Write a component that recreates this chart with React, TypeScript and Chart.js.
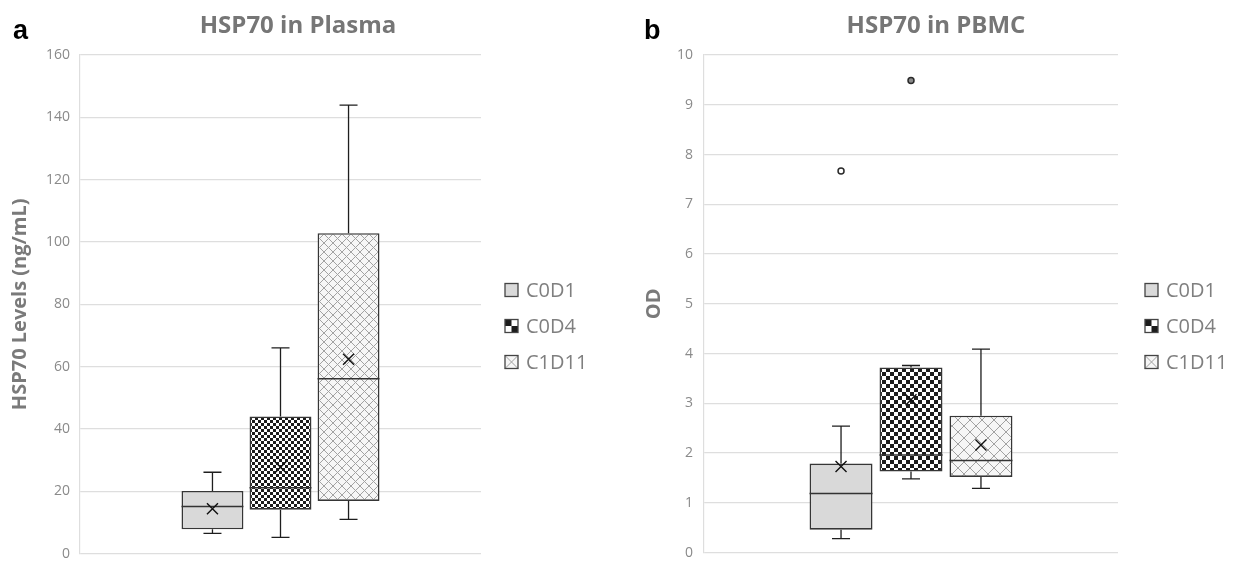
import React, { useEffect, useRef } from 'react';
import { Chart, registerables } from 'chart.js';

Chart.register(...registerables);

// ---------- data ----------
const categories = ['C0D1', 'C0D4', 'C1D11'];

// Panel a: HSP70 in Plasma (ng/mL)
const plasmaMin = [6.5, 5.2, 11.0];
const plasmaQ1 = [7.8, 14.1, 16.9];
const plasmaMedian = [15.1, 21.1, 56.1];
const plasmaQ3 = [20.1, 44.0, 102.8];
const plasmaMax = [26.1, 66.0, 143.9];
const plasmaMean = [14.4, 27.7, 62.4];
const plasmaOutliers: number[][] = [[], [], []];
const plasmaTicks = [0, 20, 40, 60, 80, 100, 120, 140, 160];

// Panel b: HSP70 in PBMC (OD)
const pbmcMin = [0.28, 1.48, 1.29];
const pbmcQ1 = [0.46, 1.63, 1.52];
const pbmcMedian = [1.19, 1.96, 1.85];
const pbmcQ3 = [1.79, 3.72, 2.75];
const pbmcMax = [2.54, 3.76, 4.09];
const pbmcMean = [1.73, 3.07, 2.16];
const pbmcOutliers: number[][] = [[7.67], [9.49], []];
const pbmcTicks = [0, 1, 2, 3, 4, 5, 6, 7, 8, 9, 10];

// ---------- patterns ----------
function checkerPattern(cell: number): CanvasPattern | string {
  const c = document.createElement('canvas');
  c.width = cell * 2;
  c.height = cell * 2;
  const g = c.getContext('2d')!;
  g.fillStyle = '#ffffff';
  g.fillRect(0, 0, cell * 2, cell * 2);
  g.fillStyle = '#1c1c1c';
  g.fillRect(0, 0, cell, cell);
  g.fillRect(cell, cell, cell, cell);
  return g.createPattern(c, 'repeat') || '#666';
}

function diamondPattern(s: number): CanvasPattern | string {
  const c = document.createElement('canvas');
  c.width = s;
  c.height = s;
  const g = c.getContext('2d')!;
  g.fillStyle = '#f6f6f6';
  g.fillRect(0, 0, s, s);
  g.strokeStyle = '#a2a2a2';
  g.lineWidth = 1;
  g.beginPath();
  g.moveTo(-1, -1);
  g.lineTo(s + 1, s + 1);
  g.moveTo(s + 1, -1);
  g.lineTo(-1, s + 1);
  g.stroke();
  return g.createPattern(c, 'repeat') || '#eee';
}

// ---------- panel ----------
type PanelCfg = {
  letter: string;
  title: string;
  titleX: number;
  yTitle: string;
  ticks: number[];
  min: number[];
  q1: number[];
  median: number[];
  q3: number[];
  max: number[];
  mean: number[];
  outliers: number[][];
  axisWidth: number;
  tickPad: number;
  yTitlePad: number;
  padRight: number;
  catPct: number;
  barPct: number;
  checkerCell: number;
  diamond: number;
  legendX: number;
  letterX: number;
};

const FONT = "'Open Sans', 'DejaVu Sans', sans-serif";

function Panel({ cfg }: { cfg: PanelCfg }) {
  const ref = useRef<HTMLCanvasElement>(null);

  useEffect(() => {
    const canvas = ref.current;
    if (!canvas) return;
    const fills = ['#d9d9d9', checkerPattern(cfg.checkerCell), diamondPattern(cfg.diamond)];

    const extras = {
      id: 'boxExtras',
      afterDatasetsDraw(chart: any) {
        const y = chart.scales.y;
        const ctx: CanvasRenderingContext2D = chart.ctx;
        const py = (v: number) => y.getPixelForValue(v);
        const cap = 18;
        ctx.save();
        categories.forEach((_, i) => {
          const el = chart.getDatasetMeta(i).data[0];
          const x = el.x;
          const w = el.width;
          // whiskers
          ctx.strokeStyle = '#1e1e1e';
          ctx.lineWidth = 1.3;
          ctx.beginPath();
          ctx.moveTo(x, py(cfg.q3[i]));
          ctx.lineTo(x, py(cfg.max[i]));
          ctx.moveTo(x - cap / 2, py(cfg.max[i]));
          ctx.lineTo(x + cap / 2, py(cfg.max[i]));
          ctx.moveTo(x, py(cfg.q1[i]));
          ctx.lineTo(x, py(cfg.min[i]));
          ctx.moveTo(x - cap / 2, py(cfg.min[i]));
          ctx.lineTo(x + cap / 2, py(cfg.min[i]));
          ctx.stroke();
          // median
          ctx.strokeStyle = '#333333';
          ctx.lineWidth = 1.5;
          ctx.beginPath();
          ctx.moveTo(x - w / 2, py(cfg.median[i]));
          ctx.lineTo(x + w / 2, py(cfg.median[i]));
          ctx.stroke();
          // mean marker
          const m = py(cfg.mean[i]);
          const h = 5.5;
          ctx.strokeStyle = '#111111';
          ctx.lineWidth = 1.4;
          ctx.beginPath();
          ctx.moveTo(x - h, m - h);
          ctx.lineTo(x + h, m + h);
          ctx.moveTo(x + h, m - h);
          ctx.lineTo(x - h, m + h);
          ctx.stroke();
          // outliers
          cfg.outliers[i].forEach((v) => {
            ctx.beginPath();
            ctx.arc(x, py(v), 3, 0, Math.PI * 2);
            ctx.fillStyle = i === 1 ? '#8a8a8a' : '#ffffff';
            ctx.fill();
            ctx.strokeStyle = '#2a2a2a';
            ctx.lineWidth = 1.5;
            ctx.stroke();
          });
        });
        ctx.restore();
      },
      afterDraw(chart: any) {
        const ctx: CanvasRenderingContext2D = chart.ctx;
        ctx.save();
        // panel letter
        ctx.fillStyle = '#000000';
        ctx.font = "bold 27px 'Liberation Sans', Arial, sans-serif";
        ctx.textAlign = 'left';
        ctx.textBaseline = 'alphabetic';
        ctx.fillText(cfg.letter, cfg.letterX, 39);
        // title
        ctx.fillStyle = '#767676';
        ctx.font = `bold 24px ${FONT}`;
        ctx.textAlign = 'center';
        ctx.fillText(cfg.title, cfg.titleX, 33);
        // legend
        const ys = [290, 326, 362];
        const s = 13;
        categories.forEach((name, i) => {
          const lx = cfg.legendX;
          const ly = ys[i] - s / 2;
          if (i === 0) {
            ctx.fillStyle = '#d9d9d9';
            ctx.fillRect(lx, ly, s, s);
          } else if (i === 1) {
            ctx.fillStyle = '#ffffff';
            ctx.fillRect(lx, ly, s, s);
            ctx.fillStyle = '#1c1c1c';
            ctx.fillRect(lx, ly, s / 2, s / 2);
            ctx.fillRect(lx + s / 2, ly + s / 2, s / 2, s / 2);
          } else {
            ctx.fillStyle = '#f6f6f6';
            ctx.fillRect(lx, ly, s, s);
            ctx.strokeStyle = '#a0a0a0';
            ctx.lineWidth = 1;
            ctx.beginPath();
            ctx.moveTo(lx, ly);
            ctx.lineTo(lx + s, ly + s);
            ctx.moveTo(lx + s, ly);
            ctx.lineTo(lx, ly + s);
            ctx.stroke();
          }
          ctx.strokeStyle = '#444444';
          ctx.lineWidth = 1.3;
          ctx.strokeRect(lx, ly, s, s);
          ctx.fillStyle = '#7f7f7f';
          ctx.font = `20px ${FONT}`;
          ctx.textAlign = 'left';
          ctx.textBaseline = 'middle';
          ctx.fillText(name, lx + 21, ys[i] + 1);
        });
        ctx.restore();
      },
    };

    const chart = new Chart(canvas, {
      type: 'bar',
      data: {
        labels: [''],
        datasets: categories.map((name, i) => ({
          label: name,
          data: [[cfg.q1[i], cfg.q3[i]]] as any,
          backgroundColor: fills[i] as any,
          borderColor: '#363636',
          borderWidth: 1.6,
          borderSkipped: false,
          categoryPercentage: cfg.catPct,
          barPercentage: cfg.barPct,
        })),
      },
      options: {
        responsive: false,
        animation: false,
        events: [],
        layout: { padding: { left: 0, right: cfg.padRight, top: 55, bottom: 10 } },
        plugins: {
          legend: { display: false },
          tooltip: { enabled: false },
          title: { display: false },
        },
        scales: {
          x: { display: false, offset: true },
          y: {
            min: cfg.ticks[0],
            max: cfg.ticks[cfg.ticks.length - 1],
            afterFit: (s: any) => {
              s.width = cfg.axisWidth;
            },
            afterBuildTicks: (s: any) => {
              s.ticks = cfg.ticks.map((v) => ({ value: v }));
            },
            grid: { color: '#dedede', lineWidth: 1.2, drawTicks: false },
            border: { display: true, color: '#dedede', width: 1.2 },
            ticks: {
              padding: cfg.tickPad,
              color: '#8a8a8a',
              font: { family: FONT, size: 14 },
            },
            title: {
              display: true,
              text: cfg.yTitle,
              color: '#7a7a7a',
              font: { family: FONT, size: 20, weight: 'bold' },
              padding: { top: cfg.yTitlePad, bottom: 0 },
            },
          },
        },
      },
      plugins: [extras as any],
    });
    return () => chart.destroy();
  }, [cfg]);

  return <canvas ref={ref} width={622} height={572} style={{ display: 'block', width: 622, height: 572 }} />;
}

const panelA: PanelCfg = {
  letter: 'a',
  title: 'HSP70 in Plasma',
  titleX: 298,
  yTitle: 'HSP70 Levels (ng/mL)',
  ticks: plasmaTicks,
  min: plasmaMin,
  q1: plasmaQ1,
  median: plasmaMedian,
  q3: plasmaQ3,
  max: plasmaMax,
  mean: plasmaMean,
  outliers: plasmaOutliers,
  axisWidth: 80,
  tickPad: 10,
  yTitlePad: 8,
  padRight: 141,
  catPct: 0.509,
  barPct: 0.91,
  checkerCell: 3,
  diamond: 9,
  legendX: 505,
  letterX: 13,
};

const panelB: PanelCfg = {
  letter: 'b',
  title: 'HSP70 in PBMC',
  titleX: 314,
  yTitle: 'OD',
  ticks: pbmcTicks,
  min: pbmcMin,
  q1: pbmcQ1,
  median: pbmcMedian,
  q3: pbmcQ3,
  max: pbmcMax,
  mean: pbmcMean,
  outliers: pbmcOutliers,
  axisWidth: 82,
  tickPad: 11,
  yTitlePad: 20,
  padRight: 126,
  catPct: 0.507,
  barPct: 0.9,
  checkerCell: 4,
  diamond: 12,
  legendX: 523,
  letterX: 22,
};

export default function App() {
  return (
    <div
      style={{
        position: 'fixed',
        left: 0,
        top: 0,
        width: 1244,
        height: 572,
        background: '#ffffff',
        overflow: 'hidden',
      }}
    >
      <div style={{ position: 'absolute', left: 0, top: 0 }}>
        <Panel cfg={panelA} />
      </div>
      <div style={{ position: 'absolute', left: 622, top: 0 }}>
        <Panel cfg={panelB} />
      </div>
    </div>
  );
}
